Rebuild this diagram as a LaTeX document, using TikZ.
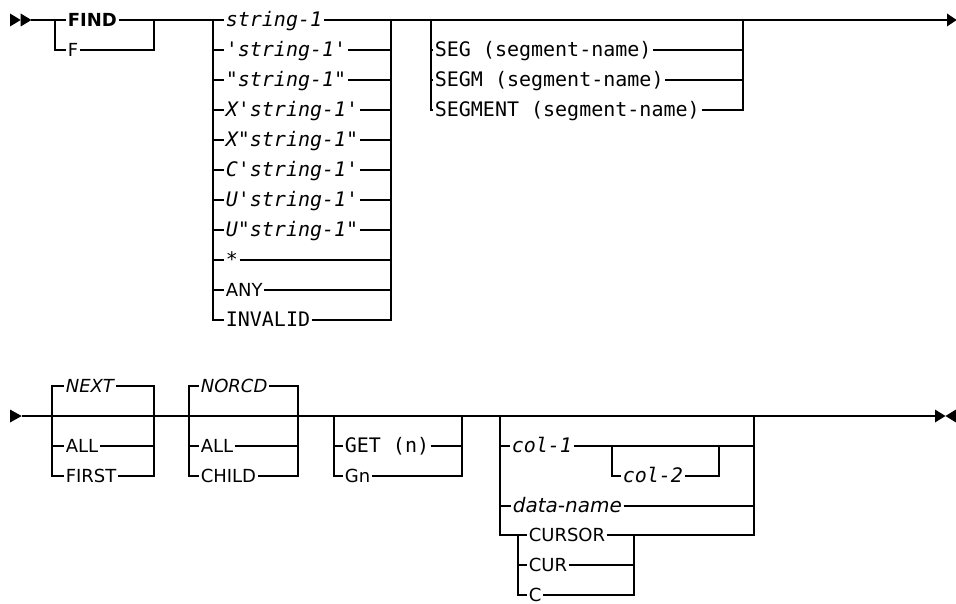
\documentclass[tikz,border=0pt]{standalone}
\usepackage{fontspec}
\setmainfont{DejaVu Sans}
\newfontfamily\monofont{DejaVu Sans Mono}
\usetikzlibrary{positioning,calc}

\begin{document}
\begin{tikzpicture}[x=1pt, y=-1pt, line width=1.6pt]
\tikzstyle{every node}=[anchor=west,inner xsep=1pt,inner ysep=0pt,text height=13pt,text depth=0pt]
\tikzstyle{kw}=[font=\fontsize{18}{20}\selectfont]
\tikzstyle{kwbold}=[font=\fontsize{18}{20}\selectfont\bfseries]
\tikzstyle{dflt}=[font=\fontsize{18}{20}\selectfont\itshape]
\tikzstyle{lit}=[font=\fontsize{20}{22}\selectfont\monofont]
\tikzstyle{var}=[font=\fontsize{20}{22}\selectfont\monofont\itshape]
\useasboundingbox (0,0) rectangle (956,604);

% first line
\coordinate (beg1) at (31.4,20);
\coordinate (end1) at (947,20);
\coordinate (fl) at (55,0);   \coordinate (fr) at (154,0);
\coordinate (sl) at (213,0);  \coordinate (sr) at (391,0);
\coordinate (gl) at (431,0);  \coordinate (gr) at (743,0);

\node[kwbold] (find) at (66,20) {FIND};
\node[kw]     (f)    at (66,50) {F};

\node[var] (s1)  at (224,20)  {string-1};
\node[var] (s2)  at (224,50)  {\textquotesingle string-1\textquotesingle};
\node[var] (s3)  at (224,80)  {\textquotedbl string-1\textquotedbl};
\node[var] (s4)  at (224,110) {X\textquotesingle string-1\textquotesingle};
\node[var] (s5)  at (224,140) {X\textquotedbl string-1\textquotedbl};
\node[var] (s6)  at (224,170) {C\textquotesingle string-1\textquotesingle};
\node[var] (s7)  at (224,200) {U\textquotesingle string-1\textquotesingle};
\node[var] (s8)  at (224,230) {U\textquotedbl string-1\textquotedbl};
\node[var] (s9)  at (224,260) {*};
\node[kw]  (s10) at (224,290) {ANY};
\node[lit] (s11) at (224,320) {INVALID};

\node[lit] (g1) at (433,50)  {SEG (segment-name)};
\node[lit] (g2) at (433,80)  {SEGM (segment-name)};
\node[lit] (g3) at (433,110) {SEGMENT (segment-name)};

\fill (10,13.5) -- (20.7,20) -- (10,26.5) -- cycle;
\fill (20.7,13.5) -- (31.4,20) -- (20.7,26.5) -- cycle;
\draw (beg1) -- (find.west) (find.east) -- (s1.west) (s1.east) -- (end1);
\fill (end1) ++(0,-6.5) -- ++(9.7,6.5) -- ++(-9.7,6.5) -- cycle;

\draw (find.west -| fl) |- (f.west);
\draw (f.east) -| (find.east -| fr);

\draw (s1.west -| sl) |- (s11.west);
\draw (s11.east) -| (s1.east -| sr);
\draw (s2.west -| sl) -- (s2.west) (s2.east) -- (s2.east -| sr);
\draw (s3.west -| sl) -- (s3.west) (s3.east) -- (s3.east -| sr);
\draw (s4.west -| sl) -- (s4.west) (s4.east) -- (s4.east -| sr);
\draw (s5.west -| sl) -- (s5.west) (s5.east) -- (s5.east -| sr);
\draw (s6.west -| sl) -- (s6.west) (s6.east) -- (s6.east -| sr);
\draw (s7.west -| sl) -- (s7.west) (s7.east) -- (s7.east -| sr);
\draw (s8.west -| sl) -- (s8.west) (s8.east) -- (s8.east -| sr);
\draw (s9.west -| sl) -- (s9.west) (s9.east) -- (s9.east -| sr);
\draw (s10.west -| sl) -- (s10.west) (s10.east) -- (s10.east -| sr);

\draw (s1.east -| gl) |- (g3.west);
\draw (g3.east) -| (s1.east -| gr);
\draw (g1.west -| gl) -- (g1.west) (g1.east) -- (g1.east -| gr);
\draw (g2.west -| gl) -- (g2.west) (g2.east) -- (g2.east -| gr);

% second line
\coordinate (beg2) at (21.7,416);
\coordinate (end2) at (935,416);
\coordinate (nl) at (52,0);   \coordinate (nr) at (154,0);
\coordinate (ncl) at (189,0); \coordinate (ncr) at (298,0);
\coordinate (tl) at (334,0);  \coordinate (tr) at (462,0);
\coordinate (ql) at (500,0);  \coordinate (qr) at (754,0);
\coordinate (pl) at (612,0);  \coordinate (pr) at (719,0);
\coordinate (kl) at (518,0);  \coordinate (kr) at (634,0);

\node[dflt] (nx)  at (64,386) {NEXT};
\node[kw]   (al1) at (64,446) {ALL};
\node[kw]   (fi)  at (64,476) {FIRST};

\node[dflt] (nc)  at (199,386) {NORCD};
\node[kw]   (al2) at (199,446) {ALL};
\node[kw]   (ch)  at (199,476) {CHILD};

\node[lit] (gt) at (343,446) {GET (n)};
\node[kw]  (gn) at (343,476) {Gn};

\node[var] (c1) at (510,446) {col-1};
\node[var] (c2) at (621,476) {col-2};
\node[dflt,font=\fontsize{20}{22}\selectfont\itshape] (dn) at (511,506) {data-name};
\node[kw]  (cs) at (527,535) {CURSOR};
\node[kw]  (cu) at (527,565) {CUR};
\node[kw]  (cc) at (527,595) {C};

\fill (10,409.5) -- (beg2) -- (10,422.5) -- cycle;
\draw (beg2) -- (end2);
\fill (end2) ++(0,-6.5) -- ++(10.5,6.5) -- ++(-10.5,6.5) -- cycle;
\fill (956,409.5) -- (945.5,416) -- (956,422.5) -- cycle;

\draw (nx.west) -| (fi.west -| nl) -- (fi.west);
\draw (nx.east) -| (fi.east -| nr) -- (fi.east);
\draw (al1.west -| nl) -- (al1.west) (al1.east) -- (al1.east -| nr);

\draw (nc.west) -| (ch.west -| ncl) -- (ch.west);
\draw (nc.east) -| (ch.east -| ncr) -- (ch.east);
\draw (al2.west -| ncl) -- (al2.west) (al2.east) -- (al2.east -| ncr);

\draw (beg2 -| tl) |- (gn.west);
\draw (gn.east) -| (beg2 -| tr);
\draw (gt.west -| tl) -- (gt.west) (gt.east) -- (gt.east -| tr);

\draw (beg2 -| ql) |- (cs.west);
\draw (cs.east) -| (beg2 -| qr);
\draw (c1.west -| ql) -- (c1.west) (c1.east) -- (c1.east -| qr);
\draw (dn.west -| ql) -- (dn.west) (dn.east) -- (dn.east -| qr);
\draw (c1.east -| pl) |- (c2.west);
\draw (c2.east) -| (c1.east -| pr);
\draw (cs.west -| kl) |- (cc.west);
\draw (cc.east) -| (cs.east -| kr);
\draw (cu.west -| kl) -- (cu.west) (cu.east) -- (cu.east -| kr);
\end{tikzpicture}
\end{document}
